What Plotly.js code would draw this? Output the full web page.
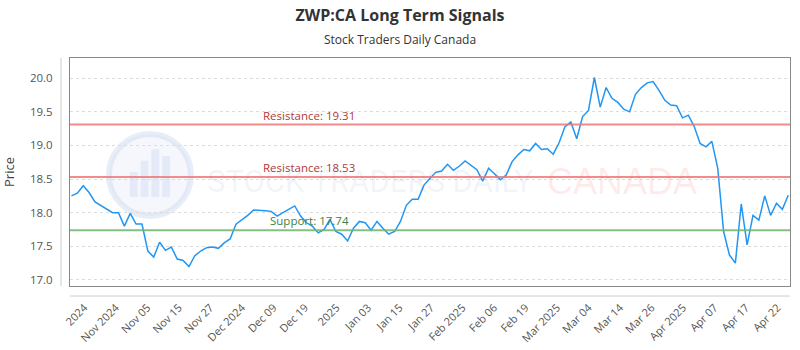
<!DOCTYPE html>
<html><head><meta charset="utf-8">
<script src="https://cdn.plot.ly/plotly-3.0.1.min.js"></script>
<style>html,body{margin:0;padding:0;background:#fff}#chart{width:800px;height:350px}</style>
</head><body><div id="chart"></div>
<script>
const prices = [
18.25,18.29,18.40,18.30,18.16,18.11,18.06,18.00,18.00,17.80,
17.99,17.83,17.83,17.43,17.34,17.56,17.44,17.49,17.31,17.29,
17.20,17.36,17.43,17.48,17.49,17.47,17.55,17.61,17.83,17.89,
17.96,18.04,18.04,18.03,18.02,17.95,18.00,18.05,18.10,17.95,
17.85,17.80,17.70,17.75,17.90,17.72,17.68,17.58,17.77,17.87,
17.85,17.74,17.87,17.77,17.68,17.72,17.87,18.11,18.20,18.20,
18.41,18.51,18.60,18.62,18.72,18.63,18.69,18.77,18.71,18.64,
18.47,18.66,18.58,18.49,18.56,18.76,18.86,18.94,18.92,19.03,
18.94,18.95,18.87,19.04,19.28,19.35,19.10,19.43,19.52,20.01,
19.57,19.86,19.70,19.64,19.54,19.50,19.76,19.86,19.93,19.95,
19.82,19.67,19.60,19.59,19.41,19.45,19.28,19.03,18.98,19.06,
18.66,17.72,17.37,17.25,18.13,17.52,17.96,17.89,18.25,17.96,
18.14,18.05,18.26
];
const tickLabels = ["2024","Nov 2024","Nov 05","Nov 15","Nov 27","Dec 2024","Dec 09","Dec 19","2025","Jan 03","Jan 15","Jan 27","Feb 2025","Feb 06","Feb 19","Mar 2025","Mar 04","Mar 14","Mar 26","Apr 2025","Apr 07","Apr 17","Apr 22"];
const resistanceLevels = [19.31, 18.53];
const supportLevels = [17.74];
const titleText = "ZWP:CA Long Term Signals";
const subtitleText = "Stock Traders Daily Canada";

const idx = prices.map((_, i) => i);
const firstTick = 2.2, lastTick = 120.2;
const tickVals = tickLabels.map((_, i) => firstTick + i * (lastTick - firstTick) / (tickLabels.length - 1));

const shapes = [];
const annotations = [];
// watermark logo and text (drawn first, below everything)
shapes.push({type:'circle', xref:'paper', yref:'paper', x0:0.054, x1:0.168, y0:0.307, y1:0.667, line:{color:'rgba(190,205,235,0.35)', width:6}, fillcolor:'rgba(215,225,245,0.25)', layer:'below'});
[[0.083,0.39,0.50],[0.098,0.39,0.55],[0.113,0.39,0.60],[0.128,0.39,0.57]].forEach(b => {
  shapes.push({type:'rect', xref:'paper', yref:'paper', x0:b[0], x1:b[0]+0.011, y0:b[1], y1:b[2], line:{width:0}, fillcolor:'rgba(190,205,235,0.3)', layer:'below'});
});
annotations.push({xref:'paper', yref:'paper', x:(205-70)/720, xanchor:'left', y:(286-181)/228, text:'STOCK TRADERS DAILY', showarrow:false, font:{family:'Roboto, sans-serif', size:31, color:'rgba(60,80,150,0.08)'}});
annotations.push({xref:'paper', yref:'paper', x:(545-70)/720, xanchor:'left', y:(286-181)/228, text:'CANADA', showarrow:false, font:{family:'Liberation Sans, sans-serif', size:36, color:'rgba(255,90,90,0.12)'}});

resistanceLevels.forEach(v => {
  shapes.push({type:'line', xref:'paper', yref:'y', x0:0, x1:1, y0:v, y1:v, line:{color:'rgba(240,120,120,0.85)', width:2}});
  annotations.push({xref:'x', yref:'y', x:32.3, y:v, xanchor:'left', yanchor:'bottom', text:'Resistance: ' + v.toFixed(2), showarrow:false, font:{family:'Open Sans, sans-serif', size:11.5, color:'#b03a3a'}});
});
supportLevels.forEach(v => {
  shapes.push({type:'line', xref:'paper', yref:'y', x0:0, x1:1, y0:v, y1:v, line:{color:'rgba(110,180,110,0.85)', width:2}});
  annotations.push({xref:'x', yref:'y', x:33.5, y:v, xanchor:'left', yanchor:'bottom', text:'Support: ' + v.toFixed(2), showarrow:false, font:{family:'Open Sans, sans-serif', size:11.5, color:'#3f7f3f'}});
});
// outer offset axis lines
shapes.push({type:'line', xref:'paper', yref:'paper', x0:-0.0125, x1:-0.0125, y0:0, y1:1, line:{color:'#cccccc', width:1}});
shapes.push({type:'line', xref:'paper', yref:'paper', x0:0, x1:1, y0:-0.044, y1:-0.044, line:{color:'#cccccc', width:1}});
annotations.push({xref:'paper', yref:'paper', x:(400-70)/720, y:(286-40)/228, xanchor:'center', yanchor:'middle', text:subtitleText, showarrow:false, font:{family:'Open Sans, sans-serif', size:12, color:'#333'}});

const trace = {x: idx, y: prices, type:'scatter', mode:'lines', line:{color:'#2196f3', width:1.5}, hoverinfo:'skip'};

const layout = {
  width:800, height:350,
  margin:{l:70, r:10, t:58, b:64},
  paper_bgcolor:'#fff', plot_bgcolor:'#fff',
  title:{text:'<b>' + titleText + '</b>', x:0.5, xanchor:'center', y:0.955, yanchor:'middle', font:{family:'Open Sans, sans-serif', size:16, color:'#333'}},
  showlegend:false,
  xaxis:{range:[-0.25, 122.3], tickvals:tickVals, ticktext:tickLabels, tickangle:-45, ticks:'', showgrid:false, zeroline:false,
    showline:true, mirror:true, linecolor:'#888', linewidth:1, ticklabelstandoff:10,
    tickfont:{family:'Open Sans, sans-serif', size:11, color:'#555'}},
  yaxis:{range:[16.91, 20.30], tickvals:[17,17.5,18,18.5,19,19.5,20], ticktext:['17.0','17.5','18.0','18.5','19.0','19.5','20.0'],
    ticks:'', showgrid:true, gridcolor:'#dddddd', griddash:'dot', zeroline:false,
    showline:true, mirror:true, linecolor:'#888', linewidth:1, ticklabelstandoff:14,
    title:{text:'Price', standoff:14, font:{family:'Open Sans, sans-serif', size:13, color:'#444'}},
    tickfont:{family:'Open Sans, sans-serif', size:11.5, color:'#555'}},
  shapes: shapes,
  annotations: annotations
};
Plotly.newPlot('chart', [trace], layout, {displayModeBar:false, staticPlot:true});
</script>
</body></html>
